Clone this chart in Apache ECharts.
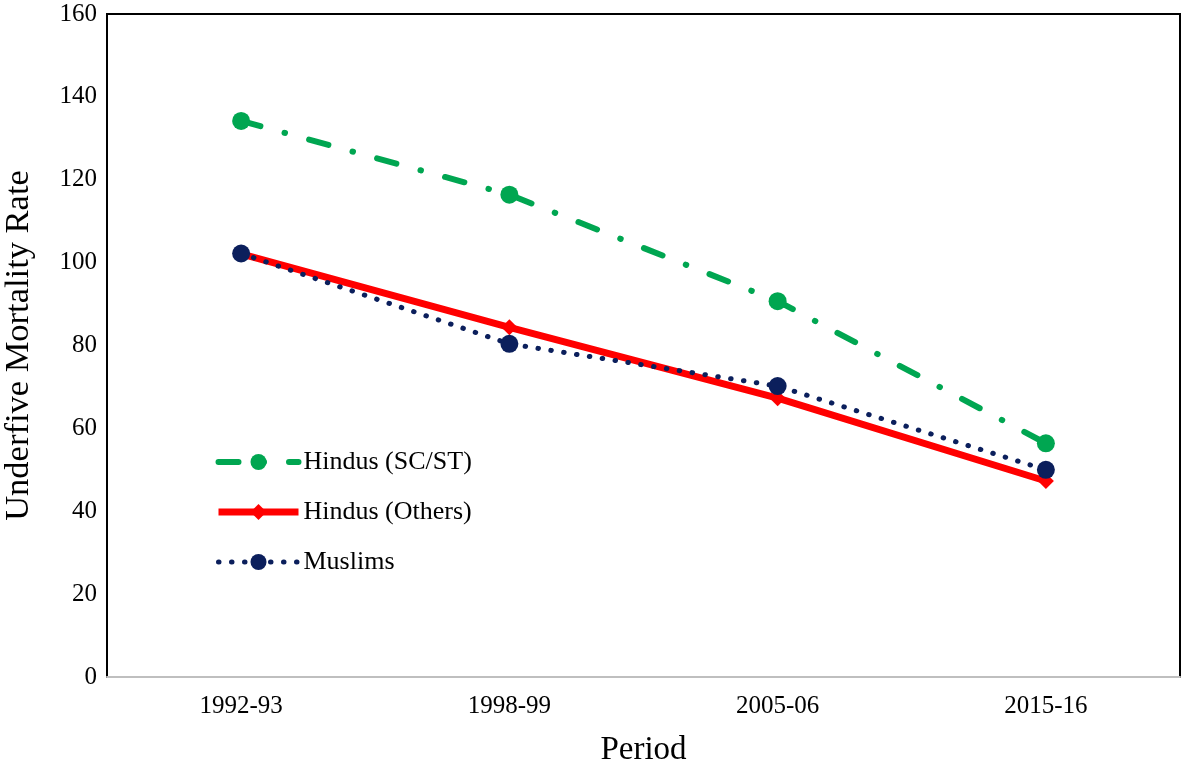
<!DOCTYPE html>
<html><head><meta charset="utf-8">
<script src="https://cdn.jsdelivr.net/npm/echarts@6/dist/echarts.min.js"></script>
<style>html,body{margin:0;padding:0;background:#fff}#c{width:1183px;height:768px}</style>
</head><body><div id="c"></div>
<script>
const categories = ['1992-93', '1998-99', '2005-06', '2015-16'];
const hindusSCST = [134.2, 116.4, 90.7, 56.4];
const hindusOthers = [102.1, 84.4, 67.3, 47.3];
const muslims = [102.2, 80.4, 70.2, 50.0];
const yTicks = [0, 20, 40, 60, 80, 100, 120, 140, 160];

const font = '"Liberation Serif","Times New Roman",serif';
const chart = echarts.init(document.getElementById('c'));
chart.setOption({
  animation: false,
  backgroundColor: '#fff',
  grid: { left: 107, right: 3, top: 14, bottom: 91, show: true, borderColor: '#000', borderWidth: 2,
          backgroundColor: 'transparent', containLabel: false, outerBoundsMode: 'none' },
  legend: {
    orient: 'vertical', left: 210, top: 444, itemGap: 24, itemWidth: 80, itemHeight: 20,
    textStyle: { fontFamily: font, fontSize: 26, color: '#000' },
    lineStyle: { width: 'inherit' },
    data: ['Hindus (SC/ST)', 'Hindus (Others)', 'Muslims']
  },
  xAxis: {
    type: 'category', data: categories, boundaryGap: true,
    name: 'Period', nameLocation: 'middle', nameGap: 57,
    nameTextStyle: { fontFamily: font, fontSize: 33, color: '#000' },
    axisLine: { lineStyle: { color: '#bfbfbf', width: 2 } },
    axisTick: { show: false },
    axisLabel: { fontFamily: font, fontSize: 25, color: '#000', margin: 17 },
    splitLine: { show: false }
  },
  yAxis: {
    type: 'value', min: yTicks[0], max: yTicks[yTicks.length - 1], interval: 20,
    name: 'Underfive Mortality Rate', nameLocation: 'middle', nameGap: 71,
    nameTextStyle: { fontFamily: font, fontSize: 34.5, color: '#000' },
    axisLine: { show: true, lineStyle: { color: '#000', width: 2 } },
    axisTick: { show: false },
    axisLabel: { fontFamily: font, fontSize: 25, color: '#000', margin: 10 },
    splitLine: { show: false }
  },
  series: [
    { name: 'Hindus (SC/ST)', type: 'line', data: hindusSCST, symbol: 'circle', symbolSize: 18,
      itemStyle: { color: '#00a651' },
      lineStyle: { color: '#00a651', width: 6, type: [20, 25, 0.5, 25], cap: 'round' } },
    { name: 'Hindus (Others)', type: 'line', data: hindusOthers, symbol: 'diamond', symbolSize: 16,
      itemStyle: { color: '#ff0000' },
      lineStyle: { color: '#ff0000', width: 7 } },
    { name: 'Muslims', type: 'line', data: muslims, symbol: 'circle', symbolSize: 18,
      itemStyle: { color: '#0b1f5c' },
      lineStyle: { color: '#0b1f5c', width: 5, type: [0.5, 12.5], cap: 'round' } }
  ]
});
</script></body></html>
